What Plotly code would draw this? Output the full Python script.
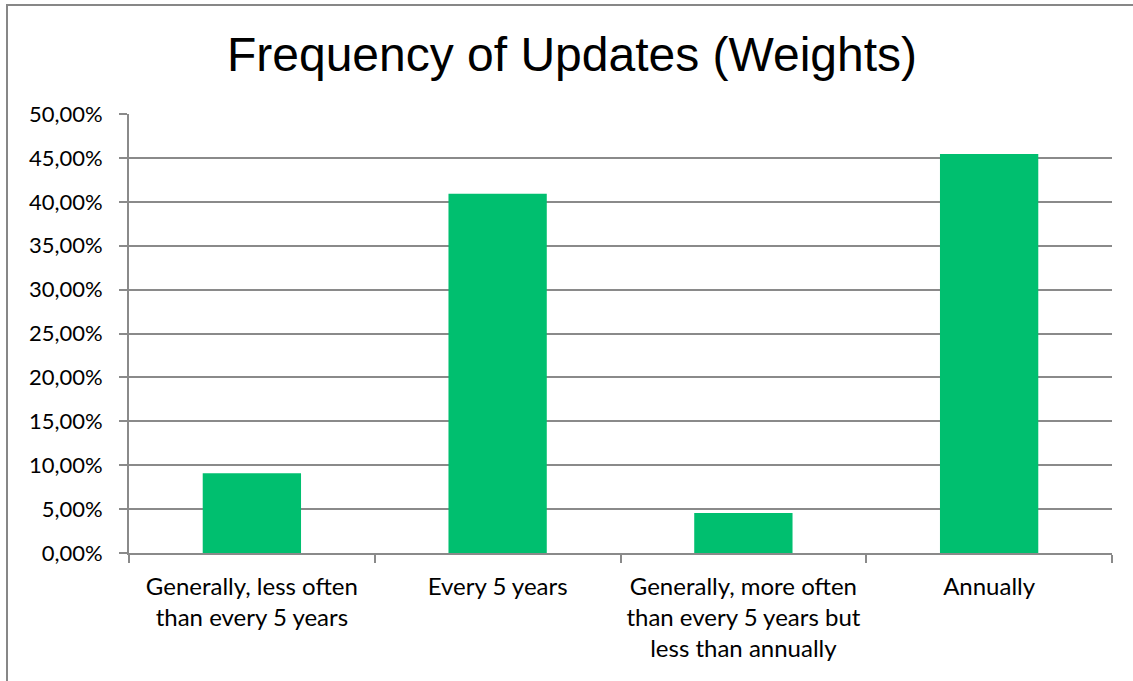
import plotly.graph_objects as go

# Survey result: how often weights are updated
categories = [
    "Generally, less often<br>than every 5 years",
    "Every 5 years",
    "Generally, more often<br>than every 5 years but<br>less than annually",
    "Annually",
]
shares = [0.0909, 0.4091, 0.0455, 0.4545]
y_ticks = [0.0, 0.05, 0.10, 0.15, 0.20, 0.25, 0.30, 0.35, 0.40, 0.45, 0.50]

BAR_GREEN = "#00BF6F"
GRID_GREY = "#8A8A8A"

fig = go.Figure(
    go.Bar(
        x=categories,
        y=shares,
        marker=dict(color=BAR_GREEN, line=dict(width=0)),
        hoverinfo="skip",
    )
)

W, H = 1133, 681
L, R, T, B = 129, 21, 114, 128
pw, ph = W - L - R, H - T - B

fig.update_layout(
    width=W,
    height=H,
    margin=dict(l=L, r=R, t=T, b=B, pad=0),
    paper_bgcolor="white",
    plot_bgcolor="white",
    separators=", ",
    bargap=0.6,
    showlegend=False,
    title=dict(
        text="Frequency of Updates (Weights)",
        x=572 / W,
        xanchor="center",
        y=1 - 54 / H,
        yanchor="middle",
        font=dict(family="Liberation Sans", size=48, color="black"),
    ),
    xaxis=dict(
        type="category",
        automargin=False,
        tickangle=0,
        showline=True,
        linecolor=GRID_GREY,
        linewidth=2,
        ticks="outside",
        tickson="boundaries",
        ticklen=8,
        tickwidth=2,
        tickcolor=GRID_GREY,
        showgrid=False,
        tickfont=dict(family="Lato", size=24, color="black"),
        ticklabelstandoff=11,
    ),
    yaxis=dict(
        automargin=False,
        range=[0, 0.5],
        tickvals=y_ticks,
        tickformat=".2%",
        showline=True,
        linecolor=GRID_GREY,
        linewidth=2,
        ticks="outside",
        ticklen=8,
        tickwidth=2,
        tickcolor=GRID_GREY,
        showgrid=True,
        gridcolor=GRID_GREY,
        gridwidth=2,
        zeroline=False,
        tickfont=dict(family="Lato", size=22, color="black"),
        ticklabelstandoff=12,
    ),
    shapes=[
        # outer chart frame, open past the right and bottom edges
        dict(
            type="rect",
            xref="paper",
            yref="paper",
            x0=(7 - L) / pw,
            x1=1.3,
            y0=-0.6,
            y1=(H - B - 5) / ph,
            line=dict(color="#878787", width=2),
            fillcolor="rgba(0,0,0,0)",
            layer="below",
        )
    ],
)

fig.write_html("out.html")
